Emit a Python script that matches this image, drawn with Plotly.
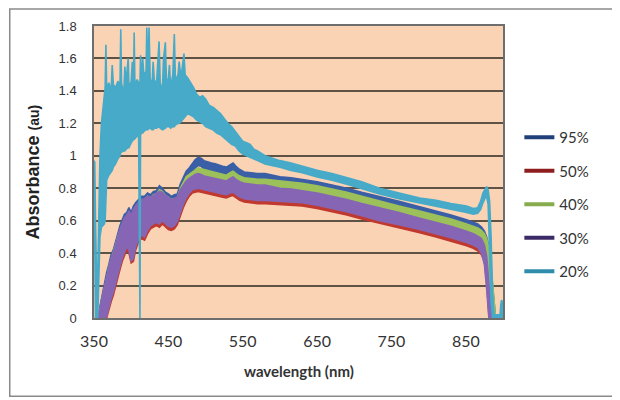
import plotly.graph_objects as go

# ---------------- data ----------------
series_names = ["95%", "50%", "40%", "30%", "20%"]
x_ticks = [350, 450, 550, 650, 750, 850]
y_ticks = [0, 0.2, 0.4, 0.6, 0.8, 1, 1.2, 1.4, 1.6, 1.8]
y_tick_text = ["0", "0.2", "0.4", "0.6", "0.8", "1", "1.2", "1.4", "1.6", "1.8"]

# wavelength grid of the four lower spectra (nm)
wl_low = [355, 358, 361, 364, 367, 370, 373, 376, 379, 382,
          385, 388, 391, 394, 397, 400, 403, 406, 410, 414,
          418, 422, 426, 430, 434, 438, 442, 446, 450, 454,
          458, 462, 466, 470, 474, 478, 482, 486, 490, 494,
          498, 503, 508, 513, 518, 523, 528, 533, 537, 541,
          546, 552, 560, 570, 580, 590, 600, 615, 630, 650,
          670, 690, 710, 734, 760, 788, 810, 830, 851, 860,
          866, 871, 875, 878, 881, 884, 887, 890]

# 95 % : upper / lower edge of the noisy trace
s95_hi = [0.00, 0.07, 0.15, 0.21, 0.28, 0.33, 0.39, 0.42, 0.48, 0.52,
          0.57, 0.60, 0.64, 0.65, 0.68, 0.65, 0.69, 0.71, 0.73, 0.75,
          0.75, 0.77, 0.76, 0.78, 0.785, 0.815, 0.80, 0.775, 0.765, 0.75,
          0.76, 0.765, 0.825, 0.87, 0.905, 0.925, 0.95, 0.975, 0.99, 0.985,
          0.97, 0.96, 0.955, 0.95, 0.94, 0.935, 0.93, 0.945, 0.955, 0.935,
          0.915, 0.90, 0.895, 0.89, 0.89, 0.88, 0.87, 0.865, 0.855, 0.84,
          0.82, 0.80, 0.775, 0.75, 0.72, 0.685, 0.66, 0.635, 0.605, 0.59,
          0.58, 0.56, 0.535, 0.50, 0.44, 0.30, 0.12, 0.00]
s95_lo = [0.00, 0.00, 0.06, 0.12, 0.18, 0.24, 0.29, 0.33, 0.38, 0.43,
          0.47, 0.51, 0.55, 0.57, 0.59, 0.57, 0.60, 0.63, 0.66, 0.68,
          0.69, 0.71, 0.70, 0.72, 0.73, 0.75, 0.74, 0.72, 0.71, 0.70,
          0.70, 0.71, 0.76, 0.81, 0.85, 0.87, 0.90, 0.925, 0.94, 0.935,
          0.92, 0.91, 0.905, 0.90, 0.89, 0.885, 0.88, 0.895, 0.905, 0.885,
          0.87, 0.855, 0.85, 0.845, 0.845, 0.835, 0.825, 0.82, 0.81, 0.795,
          0.775, 0.755, 0.73, 0.705, 0.675, 0.64, 0.615, 0.59, 0.56, 0.545,
          0.535, 0.515, 0.49, 0.42, 0.30, 0.14, 0.00, 0.00]

# 50 %
s50_hi = [0.00, 0.00, 0.00, 0.00, 0.03, 0.09, 0.14, 0.18, 0.23, 0.28,
          0.34, 0.39, 0.43, 0.46, 0.44, 0.38, 0.39, 0.46, 0.51, 0.53,
          0.52, 0.56, 0.59, 0.60, 0.61, 0.60, 0.62, 0.60, 0.585, 0.58,
          0.59, 0.615, 0.66, 0.72, 0.76, 0.79, 0.81, 0.815, 0.82, 0.815,
          0.81, 0.805, 0.80, 0.795, 0.79, 0.785, 0.78, 0.79, 0.795, 0.78,
          0.765, 0.755, 0.75, 0.745, 0.745, 0.74, 0.74, 0.735, 0.73, 0.715,
          0.695, 0.675, 0.65, 0.62, 0.595, 0.565, 0.54, 0.515, 0.485, 0.47,
          0.455, 0.43, 0.39, 0.30, 0.12, 0.00, 0.00, 0.00]
s50_lo = [0.00, 0.00, 0.00, 0.00, 0.00, 0.05, 0.10, 0.14, 0.19, 0.24,
          0.30, 0.35, 0.39, 0.42, 0.40, 0.34, 0.35, 0.42, 0.47, 0.49,
          0.48, 0.52, 0.55, 0.56, 0.57, 0.56, 0.58, 0.56, 0.545, 0.54,
          0.55, 0.575, 0.62, 0.68, 0.72, 0.75, 0.77, 0.775, 0.78, 0.775,
          0.77, 0.765, 0.76, 0.755, 0.75, 0.745, 0.74, 0.75, 0.755, 0.74,
          0.725, 0.715, 0.71, 0.705, 0.705, 0.70, 0.70, 0.695, 0.69, 0.675,
          0.655, 0.635, 0.61, 0.58, 0.555, 0.525, 0.50, 0.475, 0.445, 0.43,
          0.415, 0.39, 0.35, 0.22, 0.02, 0.00, 0.00, 0.00]

# 40 %
s40_hi = [0.00, 0.05, 0.12, 0.19, 0.25, 0.31, 0.36, 0.40, 0.45, 0.50,
          0.54, 0.58, 0.61, 0.63, 0.65, 0.63, 0.66, 0.685, 0.71, 0.725,
          0.73, 0.75, 0.74, 0.76, 0.765, 0.79, 0.78, 0.755, 0.745, 0.73,
          0.735, 0.74, 0.80, 0.84, 0.87, 0.885, 0.90, 0.915, 0.925, 0.92,
          0.915, 0.91, 0.905, 0.90, 0.89, 0.885, 0.88, 0.895, 0.905, 0.89,
          0.875, 0.865, 0.86, 0.855, 0.855, 0.85, 0.845, 0.84, 0.83, 0.815,
          0.795, 0.775, 0.75, 0.72, 0.69, 0.66, 0.635, 0.61, 0.58, 0.565,
          0.555, 0.54, 0.52, 0.49, 0.43, 0.32, 0.17, 0.00]
s40_lo = [0.00, 0.00, 0.07, 0.14, 0.20, 0.26, 0.31, 0.35, 0.40, 0.45,
          0.49, 0.53, 0.56, 0.58, 0.60, 0.58, 0.61, 0.64, 0.665, 0.68,
          0.685, 0.705, 0.695, 0.715, 0.72, 0.745, 0.735, 0.71, 0.70, 0.685,
          0.69, 0.695, 0.755, 0.795, 0.825, 0.84, 0.855, 0.87, 0.88, 0.875,
          0.87, 0.865, 0.86, 0.855, 0.845, 0.84, 0.835, 0.85, 0.86, 0.845,
          0.83, 0.82, 0.815, 0.81, 0.81, 0.805, 0.80, 0.795, 0.785, 0.77,
          0.75, 0.73, 0.705, 0.675, 0.645, 0.615, 0.59, 0.565, 0.535, 0.52,
          0.51, 0.49, 0.46, 0.40, 0.28, 0.12, 0.00, 0.00]

# 30 %
s30_hi = [0.00, 0.05, 0.13, 0.19, 0.26, 0.31, 0.37, 0.40, 0.46, 0.50,
          0.55, 0.58, 0.62, 0.63, 0.66, 0.63, 0.67, 0.69, 0.715, 0.73,
          0.735, 0.75, 0.745, 0.755, 0.765, 0.78, 0.775, 0.755, 0.745, 0.73,
          0.735, 0.745, 0.79, 0.82, 0.845, 0.86, 0.875, 0.885, 0.89, 0.885,
          0.875, 0.87, 0.865, 0.86, 0.855, 0.85, 0.845, 0.86, 0.87, 0.855,
          0.84, 0.83, 0.825, 0.82, 0.82, 0.81, 0.80, 0.795, 0.785, 0.77,
          0.75, 0.73, 0.705, 0.68, 0.65, 0.615, 0.59, 0.565, 0.535, 0.52,
          0.505, 0.49, 0.45, 0.38, 0.22, 0.05, 0.00, 0.00]
s30_lo = [0.00, 0.00, 0.00, 0.00, 0.01, 0.07, 0.12, 0.16, 0.21, 0.26,
          0.32, 0.37, 0.41, 0.44, 0.42, 0.35, 0.37, 0.44, 0.49, 0.51,
          0.50, 0.54, 0.57, 0.58, 0.59, 0.58, 0.60, 0.58, 0.565, 0.56,
          0.57, 0.595, 0.64, 0.70, 0.74, 0.77, 0.79, 0.795, 0.80, 0.795,
          0.79, 0.785, 0.78, 0.775, 0.77, 0.765, 0.76, 0.77, 0.775, 0.76,
          0.745, 0.735, 0.73, 0.725, 0.725, 0.72, 0.72, 0.715, 0.71, 0.695,
          0.675, 0.655, 0.63, 0.60, 0.575, 0.545, 0.52, 0.495, 0.465, 0.45,
          0.435, 0.40, 0.33, 0.18, 0.00, 0.00, 0.00, 0.00]

# 20 % : its own wavelength grid (spiky, noisy region 355-480 nm)
wl_20 = [350, 351, 352, 353, 354, 355, 356, 357, 358, 360,
         362, 364, 365, 366, 367, 370, 373, 374.5, 376, 379,
         382, 385, 386, 387, 390, 391.5, 393, 396, 397, 400,
         401.5, 403, 404, 405, 408, 410, 411, 411.8, 412.6, 414,
         415.5, 417, 420, 421, 422.5, 424, 425.5, 428, 429.5, 431,
         434, 437.5, 439, 442, 443.5, 446, 447.5, 450, 451.5, 453,
         456, 458, 459.5, 463, 464.5, 467, 471, 472.5, 476, 480,
         484, 488, 492, 496, 500, 505, 510, 515, 520, 525,
         530, 535, 540, 545, 550, 555, 560, 565, 570, 580,
         590, 600, 615, 630, 650, 670, 690, 710, 734, 760,
         788, 810, 830, 851, 860, 866, 870, 873, 876, 878,
         880, 882, 884, 886, 888, 896, 897, 898, 899, 900]
s20_hi = [0.97, 0.96, 0.60, 0.15, 0.10, 0.25, 0.55, 0.85, 1.00, 1.20,
          1.30, 1.38, 1.42, 1.685, 1.42, 1.45, 1.40, 1.56, 1.44, 1.42,
          1.46, 1.44, 1.78, 1.45, 1.38, 1.55, 1.45, 1.60, 1.42, 1.46,
          1.58, 1.40, 1.76, 1.44, 1.47, 1.45, 1.45, 1.45, 1.62, 1.45,
          1.60, 1.50, 1.52, 1.79, 1.50, 1.79, 1.48, 1.42, 1.58, 1.47,
          1.44, 1.705, 1.45, 1.40, 1.60, 1.70, 1.44, 1.48, 1.56, 1.42,
          1.50, 1.75, 1.46, 1.50, 1.58, 1.48, 1.63, 1.50, 1.48, 1.45,
          1.42, 1.38, 1.36, 1.37, 1.35, 1.31, 1.30, 1.28, 1.26, 1.23,
          1.20, 1.18, 1.15, 1.12, 1.09, 1.08, 1.07, 1.04, 1.03, 1.00,
          0.985, 0.97, 0.955, 0.935, 0.91, 0.89, 0.865, 0.84, 0.80, 0.77,
          0.74, 0.725, 0.705, 0.69, 0.675, 0.68, 0.72, 0.77, 0.80, 0.81,
          0.79, 0.72, 0.50, 0.15, 0.02, 0.02, 0.08, 0.11, 0.10, 0.05]
s20_lo = [0.90, 0.50, 0.00, 0.00, 0.00, 0.00, 0.05, 0.30, 0.50, 0.56,
          0.57, 0.58, 0.60, 0.62, 0.85, 0.88, 0.90, 0.91, 0.93, 0.95,
          0.98, 1.00, 1.02, 1.02, 1.03, 1.03, 1.04, 1.05, 1.05, 1.08,
          1.09, 1.10, 1.10, 1.10, 1.12, 1.13, 1.13, 0.00, 1.13, 1.14,
          1.14, 1.15, 1.16, 1.16, 1.16, 1.17, 1.17, 1.16, 1.16, 1.17,
          1.17, 1.18, 1.17, 1.16, 1.16, 1.17, 1.18, 1.18, 1.18, 1.17,
          1.18, 1.18, 1.19, 1.20, 1.20, 1.21, 1.23, 1.24, 1.26, 1.25,
          1.24, 1.22, 1.21, 1.20, 1.18, 1.17, 1.16, 1.14, 1.13, 1.11,
          1.09, 1.07, 1.06, 1.03, 1.01, 1.00, 0.99, 0.98, 0.97, 0.95,
          0.94, 0.93, 0.91, 0.895, 0.87, 0.85, 0.825, 0.80, 0.765, 0.735,
          0.71, 0.69, 0.67, 0.65, 0.64, 0.645, 0.67, 0.71, 0.74, 0.75,
          0.70, 0.45, 0.10, 0.00, 0.00, 0.00, 0.00, 0.00, 0.00, 0.00]

# ---------------- figure ----------------
plot_colors = {"95%": "#3A5FA6", "50%": "#C0392F", "40%": "#9CC05A",
               "30%": "#8666B4", "20%": "#46AAC8"}
legend_colors = {"95%": "#21407A", "50%": "#8E1E1E", "40%": "#86AC4E",
                 "30%": "#3C2A66", "20%": "#2F8CAA"}

bands = {
    "95%": (wl_low, s95_lo, s95_hi),
    "50%": (wl_low, s50_lo, s50_hi),
    "40%": (wl_low, s40_lo, s40_hi),
    "30%": (wl_low, s30_lo, s30_hi),
    "20%": (wl_20, s20_lo, s20_hi),
}

fig = go.Figure()
for name in series_names:
    wl, lo, hi = bands[name]
    c = plot_colors[name]
    fig.add_trace(go.Scatter(
        x=list(wl) + list(wl)[::-1], y=list(hi) + list(lo)[::-1],
        mode="lines", fill="toself", fillcolor=c,
        line=dict(color=c, width=1.6), showlegend=False, hoverinfo="skip"))

for name in series_names:
    fig.add_trace(go.Scatter(
        x=[None], y=[None], mode="lines", name=name,
        legendgroup=name,
        line=dict(color=legend_colors[name], width=4)))

# page has an 8 px body margin: figure is 612x392, placed at (8, 8)
fig.update_layout(
    width=612, height=392,
    margin=dict(l=86, r=117, t=18, b=82, autoexpand=False),
    paper_bgcolor="white", plot_bgcolor="#FAD3B5",
    showlegend=True,
    legend=dict(x=1.04, y=0.675, xanchor="left", yanchor="top",
                font=dict(family="Lato", size=15, color="#333333"),
                tracegroupgap=11, bgcolor="rgba(0,0,0,0)",
                itemwidth=30),
    xaxis=dict(range=[350, 900], tickvals=x_ticks,
               ticktext=[str(v) for v in x_ticks],
               showgrid=False, zeroline=False,
               showline=True, linecolor="#6E6E6E", linewidth=1.5,
               mirror=True, ticks="", ticklabelstandoff=8,
               tickfont=dict(family="Lato", size=16, color="#333333")),
    yaxis=dict(range=[0, 1.8], tickvals=y_ticks, ticktext=y_tick_text,
               showgrid=True, gridcolor="#5E5245", gridwidth=1.5,
               zeroline=False, showline=True, linecolor="#6E6E6E",
               linewidth=1.5, mirror=True, ticks="", ticklabelstandoff=13,
               tickfont=dict(family="Liberation Sans", size=13, color="#333333")),
    annotations=[
        dict(text="<b>Absorbance</b> <b><span style='font-size:14px'>(au)</span></b>",
             xref="paper", yref="paper", x=-0.148, y=0.5,
             xanchor="center", yanchor="middle",
             textangle=-90, showarrow=False,
             font=dict(family="Liberation Sans", size=18, color="#222222")),
        dict(text="<b>wavelength (nm)</b>", xref="paper", yref="paper",
             x=0.5, y=-0.182, xanchor="center", yanchor="middle",
             showarrow=False,
             font=dict(family="Lato", size=15, color="#333333")),
    ],
    shapes=[dict(type="rect", xref="paper", yref="paper",
                 x0=-0.206, x1=1.278, y0=-0.268, y1=1.058,
                 line=dict(color="#8A8A8A", width=1.5))],
)

fig.write_html("out.html")
